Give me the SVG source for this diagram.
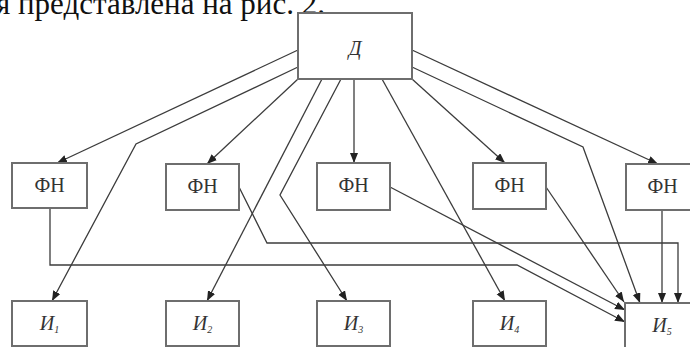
<svg xmlns="http://www.w3.org/2000/svg" width="690" height="347" viewBox="0 0 690 347">
<defs>
<style>
.box{fill:#fff;stroke:#6e6e6e;stroke-width:2}
.lbl{font-family:'Liberation Serif','DejaVu Serif',serif;font-size:20px;fill:#333;text-anchor:middle}
.sub{font-size:10px}
.con{fill:none;stroke:#3c3c3c;stroke-width:1.3}
</style>
<marker id="ar" markerUnits="userSpaceOnUse" markerWidth="12" markerHeight="10" refX="10" refY="4" orient="auto">
<path d="M0,0 L10,4 L0,8 Z" fill="#222"/>
</marker>
</defs>
<rect width="690" height="347" fill="#fff"/>
<text x="-4" y="14" font-family="Liberation Serif, serif" font-size="31" fill="#111">я представлена на рис. 2.</text>
<g id="conns" class="con" marker-end="url(#ar)">
<path d="M298,50 L57,163"/>
<path d="M298,67 L136,144 L52,301"/>
<path d="M298,79 L207,164"/>
<path d="M322,79 L207,301"/>
<path d="M341,79 L280,195 L347,301"/>
<path d="M354,79 L354,163"/>
<path d="M382,79 L505,301"/>
<path d="M412,79 L505,163"/>
<path d="M412,67 L583,147 L640,303"/>
<path d="M412,50 L658,164"/>
<path d="M662,210 L662,303"/>
<path d="M546,187 L624,302"/>
<path d="M390,187 L625,310"/>
<path d="M50,208 L50,265 L517,265 L625,322"/>
<path d="M239,187 L267,243 L678,243 L678,303"/>
</g>
<g id="D"><rect class="box" x="298" y="13" width="114" height="66"/><text class="lbl" x="355" y="55" font-family="Liberation Serif, serif" font-style="italic">Д</text></g>
<g id="FN1"><rect class="box" x="12" y="163" width="75" height="45"/><text class="lbl" x="49.5" y="192" font-family="Liberation Serif, serif">ФН</text></g>
<g id="FN2"><rect class="box" x="166" y="164" width="73" height="46"/><text class="lbl" x="202.5" y="193" font-family="Liberation Serif, serif">ФН</text></g>
<g id="FN3"><rect class="box" x="317" y="163" width="73" height="47"/><text class="lbl" x="353.5" y="192" font-family="Liberation Serif, serif">ФН</text></g>
<g id="FN4"><rect class="box" x="473" y="163" width="73" height="46"/><text class="lbl" x="509.5" y="192" font-family="Liberation Serif, serif">ФН</text></g>
<g id="FN5"><rect class="box" x="626" y="164" width="73" height="46"/><text class="lbl" x="662.5" y="193" font-family="Liberation Serif, serif">ФН</text></g>
<g id="I1"><rect class="box" x="12" y="301" width="75" height="45"/><text class="lbl" x="49.5" y="330" font-family="Liberation Serif, serif" font-style="italic">И<tspan class="sub" dy="3">1</tspan></text></g>
<g id="I2"><rect class="box" x="166" y="301" width="73" height="45"/><text class="lbl" x="202.5" y="330" font-family="Liberation Serif, serif" font-style="italic">И<tspan class="sub" dy="3">2</tspan></text></g>
<g id="I3"><rect class="box" x="317" y="301" width="73" height="45"/><text class="lbl" x="353.5" y="330" font-family="Liberation Serif, serif" font-style="italic">И<tspan class="sub" dy="3">3</tspan></text></g>
<g id="I4"><rect class="box" x="473" y="301" width="73" height="45"/><text class="lbl" x="509.5" y="330" font-family="Liberation Serif, serif" font-style="italic">И<tspan class="sub" dy="3">4</tspan></text></g>
<g id="I5"><rect class="box" x="625" y="303" width="73" height="45"/><text class="lbl" x="662" y="332" font-family="Liberation Serif, serif" font-style="italic">И<tspan class="sub" dy="3">5</tspan></text></g>
</svg>
